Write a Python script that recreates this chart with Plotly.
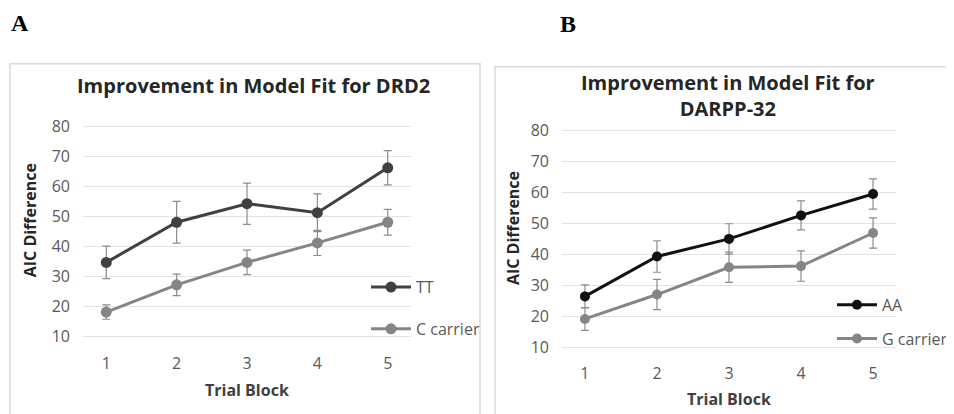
import plotly.graph_objects as go

# page body has an 8px margin, so the figure is offset by 8px
OFF = 8
W, H = 954 - OFF, 414 - OFF

blocks = ["1", "2", "3", "4", "5"]
y_ticks = [10, 20, 30, 40, 50, 60, 70, 80]

# Panel A: DRD2
tt_mean = [34.7, 48.1, 54.3, 51.3, 66.3]
tt_err = [5.4, 7.0, 6.9, 6.3, 5.7]
c_mean = [18.1, 27.2, 34.7, 41.2, 48.1]
c_err = [2.4, 3.6, 4.1, 4.2, 4.3]

# Panel B: DARPP-32
aa_mean = [26.4, 39.3, 45.0, 52.6, 59.5]
aa_err = [3.7, 5.1, 4.9, 4.7, 4.9]
g_mean = [19.1, 27.0, 35.8, 36.2, 46.9]
g_err = [3.7, 4.9, 4.9, 4.9, 4.9]

title_a = "Improvement in Model Fit for DRD2"
title_b = "Improvement in Model Fit for<br>DARPP-32"


def px(x):
    return (x - OFF) / W


def py(y):
    return 1 - (y - OFF) / H


FONT = "Open Sans"
TICK_COLOR = "#595959"
GRID = "#e3e3e3"

fig = go.Figure()


def add_series(xa, ya, y, err, name, color, legend, msize):
    fig.add_trace(go.Scatter(
        x=blocks, y=y, name=name, mode="lines+markers",
        xaxis=xa, yaxis=ya, legend=legend, legendgroup=name,
        line=dict(color=color, width=3),
        marker=dict(color=color, size=msize),
        error_y=dict(type="data", array=err, visible=True,
                     color="#8c8c8c", thickness=1.2, width=4),
        cliponaxis=False,
    ))


add_series("x", "y", tt_mean, tt_err, "TT", "#404040", "legend", 11)
add_series("x", "y", c_mean, c_err, "C carrier", "#858585", "legend", 11)
add_series("x2", "y2", aa_mean, aa_err, "AA", "#111111", "legend2", 10)
add_series("x2", "y2", g_mean, g_err, "G carrier", "#858585", "legend2", 10)

axis_common = dict(showline=False, zeroline=False, ticks="",
                   tickfont=dict(family=FONT, size=16, color=TICK_COLOR))

fig.update_layout(
    width=W, height=H,
    margin=dict(l=0, r=0, t=0, b=0),
    paper_bgcolor="white", plot_bgcolor="white",
    font=dict(family=FONT),
    xaxis=dict(domain=[px(83), px(411)], anchor="y", showgrid=False,
               ticklabelstandoff=9, **axis_common),
    yaxis=dict(domain=[py(345.1), py(117.9)], anchor="x", range=[7.9, 82.1],
               tickvals=y_ticks, showgrid=True, gridcolor=GRID, gridwidth=1,
               ticklabelstandoff=12, **axis_common),
    xaxis2=dict(domain=[px(562), px(896)], anchor="y2", showgrid=False,
                ticklabelstandoff=8, **axis_common),
    yaxis2=dict(domain=[py(356.3), py(121.7)], anchor="x2", range=[7.9, 82.1],
                tickvals=y_ticks, showgrid=True, gridcolor=GRID, gridwidth=1,
                ticklabelstandoff=12, **axis_common),
    legend=dict(x=px(366), y=py(271), xanchor="left", yanchor="top",
                bgcolor="rgba(0,0,0,0)", tracegroupgap=18, itemwidth=40,
                font=dict(family=FONT, size=16, color=TICK_COLOR)),
    legend2=dict(x=px(832), y=py(289), xanchor="left", yanchor="top",
                 bgcolor="rgba(0,0,0,0)", tracegroupgap=10, itemwidth=40,
                 font=dict(family=FONT, size=16, color=TICK_COLOR)),
    shapes=[
        dict(type="rect", xref="paper", yref="paper",
             x0=px(10), x1=px(480), y0=py(425), y1=py(60),
             line=dict(color="#d9d9d9", width=1.5)),
        dict(type="rect", xref="paper", yref="paper",
             x0=px(495), x1=px(965), y0=py(425), y1=py(63),
             line=dict(color="#d9d9d9", width=1.5)),
    ],
)

annos = [
    dict(text="<b>A</b>", x=px(20), y=py(18),
         font=dict(family="Liberation Serif", size=24, color="black")),
    dict(text="<b>B</b>", x=px(568), y=py(19),
         font=dict(family="Liberation Serif", size=24, color="black")),
    dict(text="<b>" + title_a + "</b>", x=px(253), y=py(82),
         font=dict(family=FONT, size=20, color="#262626")),
    dict(text="<b>" + title_b + "</b>", x=px(728), y=py(92),
         font=dict(family=FONT, size=20, color="#262626")),
    dict(text="<b>AIC Difference</b>", x=px(30), y=py(220), textangle=-90,
         font=dict(family=FONT, size=16, color="#262626")),
    dict(text="<b>AIC Difference</b>", x=px(513), y=py(228), textangle=-90,
         font=dict(family=FONT, size=16, color="#262626")),
    dict(text="<b>Trial Block</b>", x=px(247), y=py(394),
         font=dict(family=FONT, size=16, color="#404040")),
    dict(text="<b>Trial Block</b>", x=px(729), y=py(403),
         font=dict(family=FONT, size=16, color="#404040")),
]
for a in annos:
    fig.add_annotation(xref="paper", yref="paper", showarrow=False,
                       xanchor="center", yanchor="middle", **a)

fig.write_html("out.html")
